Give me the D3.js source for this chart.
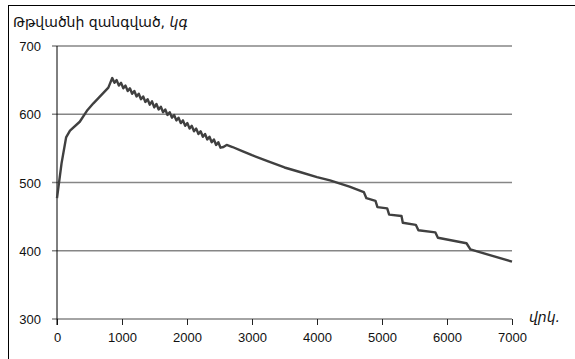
<!DOCTYPE html>
<html>
<head>
<meta charset="utf-8">
<script src="https://cdn.jsdelivr.net/npm/d3@7"></script>
<style>
  body { margin: 0; background: #fff; }
  svg { display: block; }
</style>
</head>
<body>
<div id="chart"></div>
<script>
// time, s
var times = [0, 70, 140, 200, 350, 460, 560, 710, 790, 850,
  884, 918, 952, 986, 1020, 1054, 1088, 1122, 1156, 1190, 1224, 1258, 1292, 1326, 1360,
  1394, 1428, 1462, 1496, 1530, 1564, 1598, 1632, 1666, 1700, 1734, 1768, 1802, 1836,
  1870, 1904, 1938, 1972, 2006, 2040, 2074, 2108, 2142, 2176, 2210, 2244, 2278, 2312,
  2346, 2380, 2414, 2448, 2482, 2516,
  2560, 2610, 2700, 2850, 3000, 3250, 3500, 3750, 4000, 4200, 4500, 4720,
  4760, 4900, 4930, 5080, 5110, 5300, 5320, 5520, 5560, 5820, 5860, 6300, 6360, 7000];
// oxygen mass, kg
var mass = [477, 528, 566, 576, 589, 605, 616, 631, 639, 653,
  646, 650, 642, 646, 638, 642, 634, 638, 630, 634, 626, 630, 622, 626, 618,
  622, 614, 619, 610, 615, 607, 611, 603, 607, 599, 603, 595, 599, 591,
  595, 587, 591, 583, 587, 579, 583, 575, 579, 571, 575, 567, 571, 563,
  567, 559, 563, 555, 559, 551,
  552, 555, 552, 546, 540, 531, 522, 515, 508, 503, 494, 486,
  477, 473, 464, 462, 453, 451, 441, 438, 430, 427, 419, 411, 402, 384];
var xTicks = [0, 1000, 2000, 3000, 4000, 5000, 6000, 7000];
var yTicks = [300, 400, 500, 600, 700];

var w = 575, h = 359;
var padL = 57, padR = 512, padT = 46, padB = 319;
var font = 'Liberation Sans, DejaVu Sans, sans-serif';

var svg = d3.select('#chart').append('svg').attr('width', w).attr('height', h);

// frame
svg.append('rect')
  .attr('x', 8.5).attr('y', 5.5)
  .attr('width', w).attr('height', h)
  .attr('fill', 'none').attr('stroke', '#000').attr('stroke-width', 1);

var x = d3.scaleLinear().domain([0, 7000]).range([padL, padR]);
var y = d3.scaleLinear().domain([300, 700]).range([padB, padT]);

// grid lines + y labels
svg.append('g').selectAll('line').data(yTicks).enter().append('line')
  .attr('x1', padL - 5).attr('x2', padR)
  .attr('y1', function(d) { return y(d); })
  .attr('y2', function(d) { return y(d); })
  .attr('stroke', '#868686').attr('stroke-width', 1.5);

svg.append('g').selectAll('text').data(yTicks).enter().append('text')
  .text(function(d) { return d; })
  .attr('x', padL - 16)
  .attr('y', function(d) { return y(d) + 5; })
  .attr('text-anchor', 'end')
  .attr('font-family', font).attr('font-size', '13px').attr('fill', '#111');

// x axis ticks
var xAxis = d3.axisBottom(x).tickValues(xTicks).tickSize(6).tickPadding(8).tickFormat(d3.format('d'));
var gx = svg.append('g').attr('transform', 'translate(0,' + padB + ')').call(xAxis);
gx.select('.domain').remove();
gx.selectAll('line').attr('stroke', '#222');
gx.selectAll('text').attr('font-family', font).attr('font-size', '13px').attr('fill', '#111');

// y axis line
svg.append('line')
  .attr('x1', padL).attr('x2', padL)
  .attr('y1', padT).attr('y2', padB + 6)
  .attr('stroke', '#000').attr('stroke-width', 1);

// curve
var line = d3.line()
  .x(function(d, i) { return x(times[i]); })
  .y(function(d) { return y(d); });

svg.append('path')
  .datum(mass)
  .attr('d', line)
  .attr('fill', 'none')
  .attr('stroke', '#404040')
  .attr('stroke-width', 2.4)
  .attr('stroke-linejoin', 'round');

// titles
var t = svg.append('text')
  .attr('x', 13).attr('y', 27)
  .attr('font-family', 'DejaVu Sans, sans-serif').attr('font-size', '14px').attr('fill', '#111');
t.append('tspan').text('Թթվածնի զանգված, ');
t.append('tspan').attr('font-style', 'italic').text('կգ');

svg.append('text')
  .attr('x', 529).attr('y', 322)
  .attr('font-family', 'DejaVu Sans, sans-serif').attr('font-size', '14px')
  .attr('font-style', 'italic').attr('fill', '#111')
  .text('վրկ.');
</script>
</body>
</html>
